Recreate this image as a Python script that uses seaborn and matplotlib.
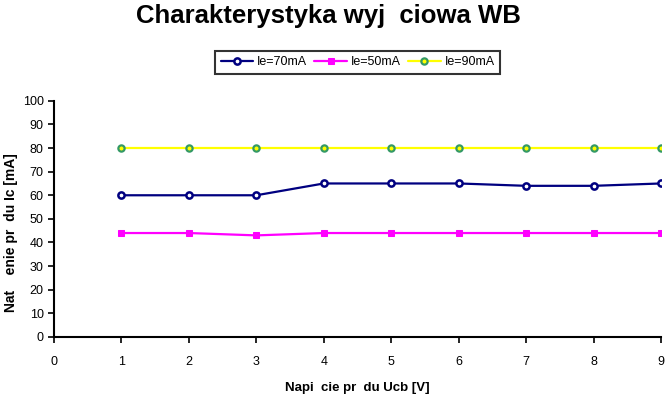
import matplotlib
matplotlib.use("Agg")
import matplotlib.pyplot as plt
import seaborn as sns
import pandas as pd

# dane z wykresu
ucb = [1, 2, 3, 4, 5, 6, 7, 8, 9]
ic_70 = [60, 60, 60, 65, 65, 65, 64, 64, 65]
ic_50 = [44, 44, 43, 44, 44, 44, 44, 44, 44]
ic_90 = [80, 80, 80, 80, 80, 80, 80, 80, 80]
series_names = ["Ie=70mA", "Ie=50mA", "Ie=90mA"]
y_ticks = [0, 10, 20, 30, 40, 50, 60, 70, 80, 90, 100]
x_ticks = [0, 1, 2, 3, 4, 5, 6, 7, 8, 9]

sns.set_style("white")
plt.rcParams["font.family"] = ["Liberation Sans", "DejaVu Sans"]
plt.rcParams["text.color"] = "black"
plt.rcParams["axes.labelcolor"] = "black"

fig = plt.figure(figsize=(6.67, 3.94), dpi=100)
ax = fig.add_axes([0.081, 0.145, 0.910, 0.599])

styles = [
    dict(color="#000080", marker="o", markersize=4.5, markerfacecolor="white",
         markeredgecolor="#000080", markeredgewidth=1.8),
    dict(color="#FF00FF", marker="s", markersize=4.5, markerfacecolor="#FF00FF",
         markeredgecolor="#FF00FF"),
    dict(color="#FFFF00", marker="o", markersize=4.5, markerfacecolor="#FFFF00",
         markeredgecolor="#339966", markeredgewidth=1.6),
]
for name, vals, st in zip(series_names, [ic_70, ic_50, ic_90], styles):
    df = pd.DataFrame({"x": ucb, "y": vals})
    sns.lineplot(data=df, x="x", y="y", ax=ax, label=name, linewidth=1.6, **st)

ax.set_xlim(0, 9)
ax.set_ylim(0, 100)
ax.set_xticks(x_ticks)
ax.set_yticks(y_ticks)
ax.tick_params(axis="both", labelsize=9, direction="out", length=4, width=1.2,
               bottom=True, left=True, colors="black")
ax.tick_params(axis="x", pad=10)
for s in ["top", "right"]:
    ax.spines[s].set_visible(False)
for s in ["left", "bottom"]:
    ax.spines[s].set_color("black")
    ax.spines[s].set_linewidth(1.5)

ax.set_xlabel("Napi  cie pr  du Ucb [V]", fontsize=9.5, fontweight="bold", labelpad=10)
ax.set_ylabel("Nat    enie pr  du Ic [mA]", fontsize=10, fontweight="bold")
ax.yaxis.set_label_coords(-0.06, 0.44)

fig.suptitle("Charakterystyka wyj  ciowa WB", x=0.492, y=0.99, fontsize=18.5,
             fontweight="bold", color="black")

leg = ax.legend(loc="center", bbox_to_anchor=(0.536, 0.842), bbox_transform=fig.transFigure,
                ncol=3, fontsize=9, frameon=True, fancybox=False, handlelength=2.6,
                columnspacing=0.6, handletextpad=0.3, borderpad=0.45)
leg.get_frame().set_edgecolor("black")
leg.get_frame().set_linewidth(1.5)
for t in leg.get_texts():
    t.set_color("black")

fig.savefig("out.png", dpi=100)
